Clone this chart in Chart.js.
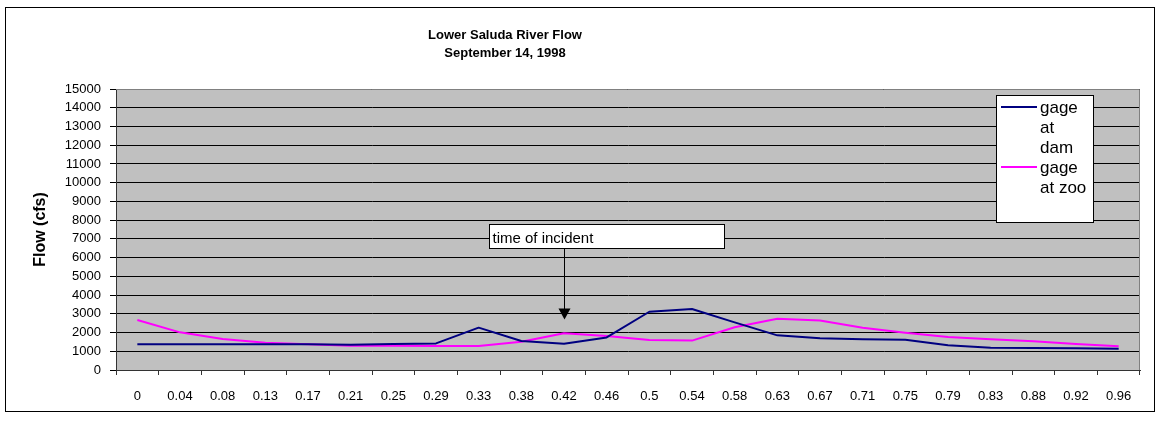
<!DOCTYPE html>
<html>
<head>
<meta charset="utf-8">
<title>Lower Saluda River Flow</title>
<script src="https://cdn.jsdelivr.net/npm/chart.js@4"></script>
<style>
  body { margin: 0; background: #fff; }
  canvas { display: block; }
</style>
</head>
<body>
<canvas id="myChart" width="1160" height="423"></canvas>
<script>
// fraction of the day (x axis)
const labels = ["0", "0.04", "0.08", "0.13", "0.17", "0.21", "0.25", "0.29", "0.33", "0.38", "0.42", "0.46",
  "0.5", "0.54", "0.58", "0.63", "0.67", "0.71", "0.75", "0.79", "0.83", "0.88", "0.92", "0.96"];
// flow in cfs
const gageAtDam = [1370, 1370, 1370, 1370, 1370, 1350, 1390, 1420, 2260, 1550, 1400, 1740,
  3110, 3260, 2540, 1850, 1700, 1640, 1620, 1320, 1190, 1170, 1160, 1140];
const gageAtZoo = [2670, 2010, 1650, 1460, 1370, 1300, 1300, 1280, 1280, 1510, 1960, 1815,
  1600, 1570, 2280, 2740, 2640, 2260, 1990, 1760, 1640, 1530, 1390, 1270];
const seriesNames = ["gage at dam", "gage at zoo"];
const titleLines = ["Lower Saluda River Flow", "September 14, 1998"];
const yTitle = "Flow (cfs)";
// annotation
const incidentAt = "0.42";
const incidentNote = "time of incident";
const arrowFrom = 6500;
const arrowTo = 2700;

const FONT = "'Liberation Sans', Arial, sans-serif";

// gray plot area + outer frame
const backdrop = {
  id: "backdrop",
  beforeDraw(chart) {
    const { ctx, chartArea: a } = chart;
    ctx.save();
    ctx.fillStyle = "#fff";
    ctx.fillRect(0, 0, chart.width, chart.height);
    ctx.strokeStyle = "#000";
    ctx.lineWidth = 1;
    ctx.strokeRect(5.5, 7.5, 1149, 404);
    ctx.fillStyle = "#c0c0c0";
    ctx.fillRect(a.left, a.top, a.right - a.left, a.bottom - a.top);
    ctx.restore();
  },
  afterDraw(chart) {
    const { ctx, chartArea: a } = chart;
    ctx.save();
    ctx.strokeStyle = "#808080";
    ctx.lineWidth = 1;
    ctx.beginPath();
    ctx.moveTo(a.left, a.top + 0.5);
    ctx.lineTo(a.right - 0.5, a.top + 0.5);
    ctx.lineTo(a.right - 0.5, a.bottom);
    ctx.stroke();
    // chart title (sits a bit left of centre in the original)
    ctx.fillStyle = "#000";
    ctx.font = "bold 13px " + FONT;
    ctx.textAlign = "center";
    ctx.textBaseline = "middle";
    titleLines.forEach((t, i) => ctx.fillText(t, 505, 35 + i * 18));
    ctx.restore();
  },
};

// "time of incident" box and arrow
const incident = {
  id: "incident",
  afterDatasetsDraw(chart) {
    const { ctx } = chart;
    const xs = chart.scales.x, ys = chart.scales.y;
    const x = Math.round(xs.getPixelForValue(labels.indexOf(incidentAt))) + 0.5;
    const y1 = ys.getPixelForValue(arrowFrom);
    const y2 = ys.getPixelForValue(arrowTo);
    ctx.save();
    // box
    const left = Math.round(x - 76) + 0.5, top = Math.round(y1 - 24) + 0.5;
    ctx.fillStyle = "#fff";
    ctx.fillRect(left, top, 235, 24);
    ctx.strokeStyle = "#000";
    ctx.lineWidth = 1;
    ctx.strokeRect(left, top, 235, 24);
    ctx.fillStyle = "#000";
    ctx.font = "15px " + FONT;
    ctx.textBaseline = "middle";
    ctx.textAlign = "left";
    ctx.fillText(incidentNote, left + 3, top + 14);
    // arrow
    ctx.beginPath();
    ctx.moveTo(x, y1);
    ctx.lineTo(x, y2 - 10);
    ctx.stroke();
    ctx.beginPath();
    ctx.moveTo(x - 6, y2 - 11);
    ctx.lineTo(x + 6, y2 - 11);
    ctx.lineTo(x, y2);
    ctx.closePath();
    ctx.fill();
    ctx.restore();
  },
};

// legend box inside the plot, text wraps like the original
const boxLegend = {
  id: "boxLegend",
  afterDraw(chart) {
    const { ctx, chartArea: a } = chart;
    const bx = a.right - 144, by = a.top + 6, bw = 97, bh = 127;
    ctx.save();
    ctx.fillStyle = "#fff";
    ctx.fillRect(bx + 0.5, by + 0.5, bw, bh);
    ctx.strokeStyle = "#000";
    ctx.lineWidth = 1;
    ctx.strokeRect(bx + 0.5, by + 0.5, bw, bh);
    ctx.font = "17px " + FONT;
    ctx.textBaseline = "middle";
    ctx.textAlign = "left";
    let y = by + 13;
    chart.data.datasets.forEach((ds) => {
      // wrap words
      const words = ds.label.split(" ");
      const lines = [];
      let cur = "";
      words.forEach((w) => {
        const t = cur ? cur + " " + w : w;
        if (cur && ctx.measureText(t).width > 49) {
          lines.push(cur);
          cur = w;
        } else {
          cur = t;
        }
      });
      lines.push(cur);
      ctx.strokeStyle = ds.borderColor;
      ctx.lineWidth = 2;
      ctx.beginPath();
      ctx.moveTo(bx + 5, y - 1);
      ctx.lineTo(bx + 41, y - 1);
      ctx.stroke();
      ctx.fillStyle = "#000";
      lines.forEach((l) => {
        ctx.fillText(l, bx + 44, y);
        y += 20;
      });
    });
    ctx.restore();
  },
};

const data = {
  labels: labels,
  datasets: [
    {
      label: seriesNames[0],
      data: gageAtDam,
      borderColor: "#000080",
      borderWidth: 2,
      pointRadius: 0,
      tension: 0,
      borderJoinStyle: "round",
      fill: false,
    },
    {
      label: seriesNames[1],
      data: gageAtZoo,
      borderColor: "#ff00ff",
      borderWidth: 2,
      pointRadius: 0,
      tension: 0,
      borderJoinStyle: "round",
      fill: false,
    },
  ],
};

const config = {
  type: "line",
  data: data,
  options: {
    responsive: false,
    animation: false,
    layout: { padding: { left: 6, top: 89, right: 20, bottom: 13 } },
    plugins: {
      legend: { display: false },
      tooltip: { enabled: false },
      title: { display: false },
    },
    scales: {
      x: {
        type: "category",
        offset: true,
        afterFit: (s) => { s.height = 40; },
        border: { display: true, color: "#333", width: 1 },
        grid: { display: true, drawOnChartArea: false, drawTicks: true, tickLength: 5, offset: true, color: "#333" },
        ticks: { color: "#000", padding: 14, maxRotation: 0, autoSkip: false, font: { family: FONT, size: 13 } },
      },
      y: {
        min: 0,
        max: 15000,
        afterFit: (s) => { s.width = 110; },
        border: { display: true, color: "#333", width: 1 },
        grid: { color: "#000", lineWidth: 1, drawTicks: true, tickLength: 6 },
        ticks: {
          stepSize: 1000,
          color: "#000",
          padding: 9,
          font: { family: FONT, size: 13 },
          callback: (v) => String(v),
        },
        title: {
          display: true,
          text: yTitle,
          color: "#000",
          font: { family: FONT, size: 16, weight: "bold" },
          padding: { top: 25, bottom: 0 },
        },
      },
    },
  },
  plugins: [backdrop, incident, boxLegend],
};

const context = document.getElementById("myChart").getContext("2d");
const chart = new Chart(context, config);
</script>
</body>
</html>
